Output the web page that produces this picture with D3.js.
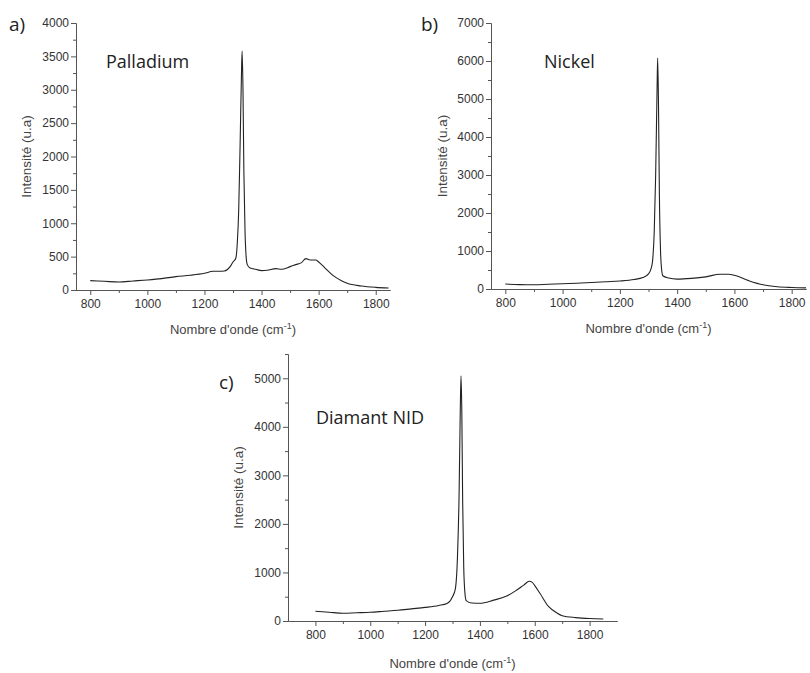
<!DOCTYPE html>
<html>
<head>
<meta charset="utf-8">
<script src="https://cdn.jsdelivr.net/npm/d3@7"></script>
<style>
  body { margin: 0; background: #fff; }
</style>
</head>
<body>
<div id="chart"></div>
<script>
"use strict";

// === DATA ===
// Palladium
const palladiumX = [800, 850, 900, 950, 1000, 1050, 1100, 1150, 1200, 1230, 1250, 1270, 1290, 1300, 1310, 1315, 1320, 1325, 1330, 1332, 1335, 1338, 1342, 1346, 1350, 1360, 1380, 1400, 1420, 1450, 1470, 1500, 1520, 1540, 1555, 1570, 1590, 1600, 1620, 1650, 1680, 1700, 1750, 1800, 1845];
const palladiumY = [140, 130, 120, 135, 150, 170, 200, 220, 250, 280, 280, 285, 350, 420, 480, 700, 1200, 2200, 3300, 3580, 3000, 1800, 900, 500, 380, 330, 310, 290, 295, 320, 310, 350, 380, 410, 470, 450, 450, 420, 340, 220, 140, 100, 60, 40, 30];

// Nickel
const nickelX = [800, 850, 900, 950, 1000, 1050, 1100, 1150, 1200, 1250, 1280, 1300, 1310, 1315, 1320, 1325, 1330, 1332, 1335, 1338, 1342, 1346, 1350, 1370, 1400, 1450, 1500, 1550, 1580, 1600, 1650, 1700, 1750, 1800, 1850];
const nickelY = [130, 115, 110, 125, 140, 150, 170, 190, 210, 250, 300, 400, 560, 800, 1500, 3000, 5300, 6080, 4800, 2500, 1000, 500, 350, 290, 260, 280, 320, 390, 390, 360, 220, 110, 60, 40, 30];

// Diamant NID
const diamantX = [800, 850, 900, 950, 1000, 1050, 1100, 1150, 1200, 1250, 1280, 1300, 1310, 1318, 1324, 1328, 1331, 1334, 1337, 1341, 1345, 1350, 1370, 1400, 1450, 1500, 1530, 1560, 1580, 1590, 1600, 1620, 1650, 1680, 1700, 1750, 1800, 1850];
const diamantY = [200, 180, 160, 170, 180, 200, 220, 250, 280, 320, 360, 500, 650, 1300, 2600, 4200, 5050, 4300, 2500, 1100, 600, 420, 370, 365, 430, 520, 620, 740, 820, 800, 730, 560, 300, 170, 110, 70, 50, 40];

const xMajor = [800, 1000, 1200, 1400, 1600, 1800];
const xMinor = [900, 1100, 1300, 1500, 1700];

// === PANELS ===
const panels = [
  { tag: "a)", name: "Palladium", xs: palladiumX, ys: palladiumY,
    xDom: [750, 1850], xRange: [76, 390], yDom: [0, 4000], yRange: [290, 23],
    yMajor: [0, 500, 1000, 1500, 2000, 2500, 3000, 3500, 4000], yStep: 250,
    tagPos: [9, 31], namePos: [106, 68], yTitleX: 27, xTitleY: 334 },
  { tag: "b)", name: "Nickel", xs: nickelX, ys: nickelY,
    xDom: [750, 1850], xRange: [491, 806], yDom: [0, 7000], yRange: [289, 23],
    yMajor: [0, 1000, 2000, 3000, 4000, 5000, 6000, 7000], yStep: 500,
    tagPos: [421, 31], namePos: [544, 68], yTitleX: 443, xTitleY: 333 },
  { tag: "c)", name: "Diamant NID", xs: diamantX, ys: diamantY,
    xDom: [700, 1900], xRange: [288, 617], yDom: [0, 5500], yRange: [621, 354],
    yMajor: [0, 1000, 2000, 3000, 4000, 5000], yStep: 500,
    tagPos: [219, 389], namePos: [316, 424], yTitleX: 239, xTitleY: 668 }
];

const svg = d3.select("#chart")
  .append("svg")
  .attr("width", 810)
  .attr("height", 673);

panels.forEach(p => {
  const x = d3.scaleLinear().domain(p.xDom).range(p.xRange);
  const y = d3.scaleLinear().domain(p.yDom).range(p.yRange);
  const g = svg.append("g");

  const yMinor = d3.range(p.yDom[0] + p.yStep, p.yDom[1] + 1, p.yStep)
    .filter(v => !p.yMajor.includes(v));

  // minor ticks
  g.append("g")
    .attr("transform", `translate(0,${p.yRange[0]})`)
    .call(d3.axisBottom(x).tickValues(xMinor).tickSize(3).tickSizeOuter(0).tickFormat(""));
  g.append("g")
    .attr("transform", `translate(${p.xRange[0]},0)`)
    .call(d3.axisLeft(y).tickValues(yMinor).tickSize(3).tickSizeOuter(0).tickFormat(""));

  // major ticks
  g.append("g")
    .attr("transform", `translate(0,${p.yRange[0]})`)
    .call(d3.axisBottom(x).tickValues(xMajor).tickSize(5).tickSizeOuter(0).tickPadding(4).tickFormat(d3.format("d")));
  g.append("g")
    .attr("transform", `translate(${p.xRange[0]},0)`)
    .call(d3.axisLeft(y).tickValues(p.yMajor).tickSize(5).tickSizeOuter(0).tickPadding(2).tickFormat(d3.format("d")));

  g.selectAll(".domain, .tick line").attr("stroke", "#555");
  g.selectAll(".tick text")
    .attr("fill", "#333")
    .style("font-size", "12px")
    .style("font-family", "'Liberation Sans', Arial, sans-serif");

  // spectrum
  const pts = p.xs.map((v, i) => [v, p.ys[i]]);
  g.append("path")
    .datum(pts)
    .attr("fill", "none")
    .attr("stroke", "#222")
    .attr("stroke-width", 1.1)
    .attr("d", d3.line().x(d => x(d[0])).y(d => y(d[1])).curve(d3.curveMonotoneX));

  // axis titles
  const yMid = (p.yRange[0] + p.yRange[1]) / 2;
  g.append("text")
    .attr("transform", `translate(${p.yTitleX},${yMid}) rotate(-90)`)
    .attr("text-anchor", "middle")
    .attr("dominant-baseline", "middle")
    .style("font-family", "'Liberation Sans', Arial, sans-serif")
    .style("font-size", "13.5px")
    .attr("fill", "#444")
    .text("Intensité (u.a)");

  const xt = g.append("text")
    .attr("x", (x(800) + x(1800)) / 2)
    .attr("y", p.xTitleY)
    .attr("text-anchor", "middle")
    .style("font-family", "'Liberation Sans', Arial, sans-serif")
    .style("font-size", "13px")
    .attr("fill", "#444");
  xt.append("tspan").text("Nombre d'onde (cm");
  xt.append("tspan").attr("dy", -5).style("font-size", "9px").text("-1");
  xt.append("tspan").attr("dy", 5).text(")");

  // panel tag and sample name
  g.append("text")
    .attr("x", p.tagPos[0]).attr("y", p.tagPos[1])
    .style("font-family", "'Open Sans', sans-serif")
    .style("font-size", "19px")
    .attr("fill", "#222")
    .text(p.tag);
  g.append("text")
    .attr("x", p.namePos[0]).attr("y", p.namePos[1])
    .style("font-family", "'Open Sans', sans-serif")
    .style("font-size", "18px")
    .attr("fill", "#222")
    .text(p.name);
});
</script>
</body>
</html>
